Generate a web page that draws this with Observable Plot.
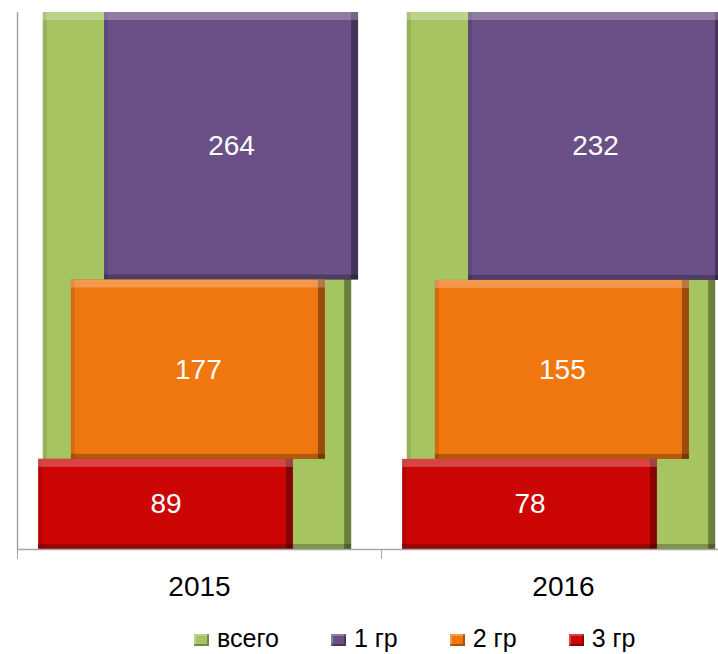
<!DOCTYPE html>
<html><head><meta charset="utf-8">
<script src="https://cdn.jsdelivr.net/npm/d3@7"></script>
<script src="https://cdn.jsdelivr.net/npm/@observablehq/plot@0.6"></script>
<style>
html,body{margin:0;padding:0;background:#fff;}
body{width:718px;height:654px;overflow:hidden;font-family:"Liberation Sans",Arial,sans-serif;}
#chart svg{display:block;}
#legend{display:flex;align-items:center;height:42px;padding-top:5px;padding-left:194px;font-size:25px;color:#000;}
.item{display:flex;align-items:center;margin-right:52px;}
.sw{width:15px;height:12px;margin-right:8px;margin-top:4px;box-shadow:inset -2px -2px 0 rgba(0,0,0,.3),inset 2px 2px 0 rgba(255,255,255,.25);}
</style></head><body>
<div id="chart"></div>
<div id="legend"></div>
<script>
// ---- data ----
const years = ["2015", "2016"];
const seriesNames = ["всего", "1 гр", "2 гр", "3 гр"];
const totalValues = [530, 465];
const gr1Values = [264, 232];
const gr2Values = [177, 155];
const gr3Values = [89, 78];
const seriesColors = ["#a7c462", "#6a5086", "#f0760f", "#cc0605"];

// ---- layout (horizontal placement of each series within its category, in category units) ----
const seriesSpan = {
  "всего": [-0.429, 0.418],
  "1 гр": [-0.261, 0.437],
  "2 гр": [-0.352, 0.346],
  "3 гр": [-0.442, 0.258]
};

const rows = [];
years.forEach((year, i) => {
  const t = totalValues[i];
  const c = i + 0.5;
  const g3 = gr3Values[i], g2 = gr2Values[i], g1 = gr1Values[i];
  const segs = [
    {series: "всего", value: t, y1: 0, y2: t / t},
    {series: "1 гр", value: g1, y1: (g3 + g2) / t, y2: (g3 + g2 + g1) / t},
    {series: "2 гр", value: g2, y1: g3 / t, y2: (g3 + g2) / t},
    {series: "3 гр", value: g3, y1: 0, y2: g3 / t}
  ];
  for (const s of segs) {
    rows.push({...s, year, x1: c + seriesSpan[s.series][0], x2: c + seriesSpan[s.series][1]});
  }
});

const color = d => seriesColors[seriesNames.indexOf(d.series)];

const chart = Plot.plot({
  width: 718,
  height: 612,
  marginTop: 12,
  marginBottom: 63,
  marginLeft: 17,
  marginRight: 0,
  style: {fontFamily: "Liberation Sans, Arial, sans-serif", background: "#fff"},
  x: {type: "linear", domain: [0, 2], range: [17, 745]},
  y: {domain: [0, 1], axis: null},
  marks: [
    Plot.rect(rows, {x1: "x1", x2: "x2", y1: "y1", y2: "y2", fill: color}),
    Plot.text(rows.filter(d => d.series !== "всего"), {
      x: d => (d.x1 + d.x2) / 2,
      y: d => (d.y1 + d.y2) / 2,
      text: d => String(d.value),
      fill: "white",
      fontSize: 28
    }),
    Plot.ruleY([0], {stroke: "#a6a6a6", strokeWidth: 1.5}),
    Plot.ruleX([0], {stroke: "#a6a6a6", strokeWidth: 1.5}),
    Plot.axisX([0, 1, 2], {tickSize: 10, tickFormat: () => "", stroke: "#a6a6a6", label: null}),
    Plot.text(years.map((y, i) => ({y, x: i + 0.5})), {
      x: "x", y: () => 0, text: "y", dy: 38, fontSize: 28, fill: "#000"
    })
  ]
});

// bevel filter
const svg = d3.select(chart);
const defs = svg.insert("defs", ":first-child");
defs.html(`
<filter id="bevel" x="-2%" y="-2%" width="104%" height="104%" color-interpolation-filters="sRGB">
  <feOffset in="SourceAlpha" dy="8" result="offD"/>
  <feComposite in="SourceAlpha" in2="offD" operator="out" result="topStrip"/>
  <feFlood flood-color="#fff" flood-opacity="0.25"/>
  <feComposite in2="topStrip" operator="in" result="topLight"/>
  <feOffset in="SourceAlpha" dx="-7" result="offL"/>
  <feComposite in="SourceAlpha" in2="offL" operator="out" result="rightStrip"/>
  <feFlood flood-color="#000" flood-opacity="0.35"/>
  <feComposite in2="rightStrip" operator="in" result="rightDark"/>
  <feOffset in="SourceAlpha" dy="-5" result="offU"/>
  <feComposite in="SourceAlpha" in2="offU" operator="out" result="botStrip"/>
  <feFlood flood-color="#000" flood-opacity="0.25"/>
  <feComposite in2="botStrip" operator="in" result="botDark"/>
  <feOffset in="SourceAlpha" dx="4" result="offR"/>
  <feComposite in="SourceAlpha" in2="offR" operator="out" result="leftStrip"/>
  <feFlood flood-color="#000" flood-opacity="0.1"/>
  <feComposite in2="leftStrip" operator="in" result="leftDark"/>
  <feMerge>
    <feMergeNode in="SourceGraphic"/>
    <feMergeNode in="leftDark"/>
    <feMergeNode in="botDark"/>
    <feMergeNode in="rightDark"/>
    <feMergeNode in="topLight"/>
  </feMerge>
</filter>`);
svg.selectAll("g[aria-label=rect] rect").attr("filter", "url(#bevel)");

document.getElementById("chart").appendChild(chart);

// legend
const legend = d3.select("#legend");
seriesNames.forEach((name, i) => {
  const it = legend.append("div").attr("class", "item");
  it.append("div").attr("class", "sw").style("background", seriesColors[i]);
  it.append("span").text(name);
});
</script>
</body></html>
